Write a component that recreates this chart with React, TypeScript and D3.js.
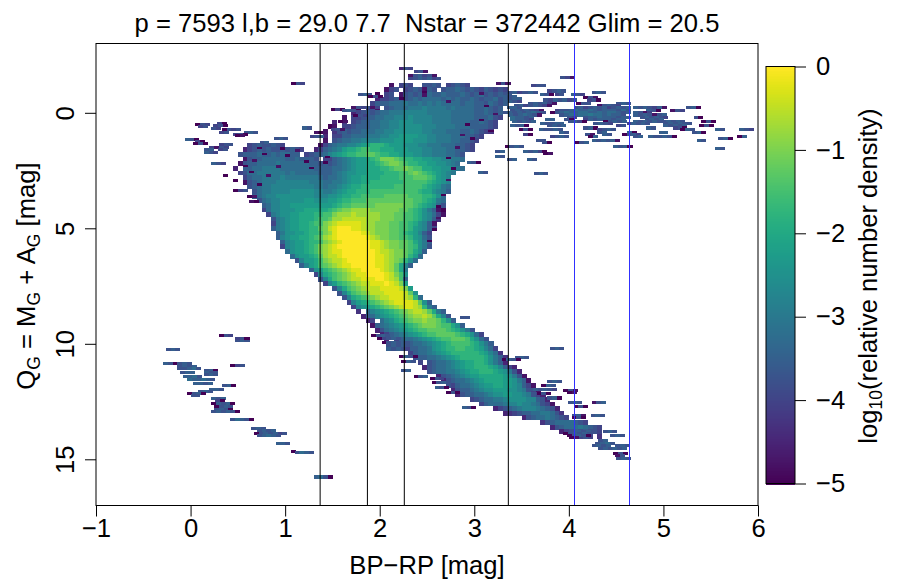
import React, { useRef, useEffect } from "react";
import * as d3 from "d3";

// cell levels: a = -5 ... u = 0 in log10 density, steps of 0.25; "." = empty bin
type Row = [number, number, string]; // Q, BP-RP of first bin, levels

const xTicks = [-1, 0, 1, 2, 3, 4, 5, 6];
const yTicks = [0, 5, 10, 15];
const barTicks = [0, -1, -2, -3, -4, -5];
const blackLines = [1.37, 1.87, 2.26, 3.36];
const blueLines = [4.05, 4.64];

const giantRows: Row[] = [
  [-1.2, 2.1, "b.efe..ffgf.efgfe."],
  [-1.0, 2.05, "bef.efgfbgf.fgghgfgfegfefe"],
  [-0.8, 1.95, "a.ef.bfgfgbhgghggghgfghfgfgfg"],
  [-0.6, 1.95, "ceefggfghghhhhghghgghgfgghfgg"],
  [-0.4, 1.9, "eggghhhihhihihihhhhghhggfhgfg"],
  [-0.2, 1.75, "a.efb.fghhhiiijiiiihihhhhgghgfg"],
  [0.0, 1.7, "cefgfghhiiijjjjjiiiiihhhhhgghgfg"],
  [0.2, 1.6, "b.eefgghhiijjjkjjjjiiiihhhhhggghfe"],
  [0.4, 1.5, "c.d.efgghhiijjkkkjjjjiiiihhhhgghgfe"],
  [0.6, 1.45, "ab.eefggghhiijjkkkkkjjjiiiihhhggggfe"],
  [0.8, 1.4, "b.dfgfgghhhiijjkkkkkkjjiiihhhgghgfed"],
  [1.0, 1.4, "c.eegghhhiiijjkkllllkkjjiiihhhggfe"],
  [1.2, 1.4, "b.fghhiijjjjkkkllllkkkjjiiihhggfe"],
  [1.4, 0.6, "efgffgfe.......beghiijjklmnnnmlllkkkjjiiihhhggfe"],
  [1.6, 0.55, "cefgfgffgfgfe..ceghijlmmnoonnmmmlllkkkjjiiihhggfe"],
  [1.8, 0.5, "fggghgghghhgg.efgghjklmnnoopponnmmlllkkjjiiihhgf"],
  [2.0, 0.55, "bfgghhhhhgghgggf.eeghijkllmnoqqqponnmmllkkjjiih"],
  [2.2, 0.45, ".bfgghhhhihhhhhhggfgfghijkllmmnopqqponnmmllkkjih"],
  [2.4, 0.45, "c.gghhiiiihhhhhhhggg" + "ghhijkllmmmnnoppqpoommllkkjih"],
  [2.6, 0.5, "efhhiiiiiihihhhhhg" + "gghijkkllmmmmnnnoopqponmlkji"],
  [2.8, 0.55, "eghhiiiijiiiiiiih" + "ghhijkllmmmmnnnnoooppponlkj"],
  [3.0, 0.55, "bfghiiijjjjjjjiii" + "hhiijkllmmnnnnnnnooooonmlkj"],
  [3.2, 0.6, "fghiijjjjjjjjjii" + "hiijklmmnnnnnnnoooooonmlkih"],
  [3.4, 0.6, ".fhiijjjjkkkkkjj" + "iijklmmnnnoooooooooonmmkjig"],
  [3.6, 0.65, "ghijjkkkkkkkkj" + "jjkklmmnnooooopppppooonnmkh"],
  [3.8, 0.7, "fhijjkkkkkllkk" + "kllmnnoooppppppppppoonmlih"],
  [4.0, 0.7, ".ghjjkkllllllll" + "lmnoopppppqqqqqqpponmlkhf"],
];

const turnoffRows: Row[] = [
  [4.2, 0.75, "ehjjkkkllmmmmm" + "nopqqrrrrqqqqqqpponmkigba"],
  [4.4, 0.8, "eijkkllmmmnnoo" + "qrrrsrrrrrqqqppoonmkjheb"],
  [4.6, 0.8, ".fijkllmmmnoop" + "rrsssssrrrqqqppoonmkjgd"],
  [4.8, 0.8, ".eijkllmmnooqr" + "stttttsrrqqqppoonmkjgb"],
  [5.0, 0.85, "gijkllmmnnpqs" + "tuuuttsrrqqqppoonlkjge"],
  [5.2, 0.85, ".gikkllmnnoqr" + "tuuuuutsrqqqpponmljge"],
  [5.4, 0.9, "gjkllmmnopr" + "stuuuuuutsrqqppoonlkhf"],
  [5.6, 0.9, ".gjkllmnnoqr" + "stuuuuuuttsrqqppomkig"],
  [5.8, 0.95, "ejkllmnoqr" + "stuuuuuuuttsrqqpponkif"],
  [6.0, 1.0, "hkllmnoqr" + "sttuuuuuuutssrqqpomkg"],
  [6.2, 1.05, "hkllmnpr" + "sstuuuuuuuttsrqqpnlh"],
  [6.4, 1.1, "fjllmoq" + "rsstuuuuuuttsrqpnkh"],
  [6.6, 1.15, "gjlmop" + "qrsttuuuuuttsrpmjg"],
  [6.8, 1.25, "gklno" + "pqrsttuuuutsrpmi"],
  [7.0, 1.3, "ejmno" + "pqrsttuuuutsqok"],
  [7.2, 1.35, "fjmo" + "pqrsstttuutsrog"],
  [7.4, 1.4, "ejlno" + "pqrsstttutsql"],
  [7.6, 1.5, "fjmo" + "pqrsssttttsql"],
  [7.8, 1.55, "fjmo" + "pqrsssttttspk"],
  [8.0, 1.6, "fjm" + "nopqrsstttsrnh"],
  [8.2, 1.65, "ejl" + "mnopqrsttttspkg"],
  [8.4, 1.7, "ej" + "klmnopqrsttsrnig"],
];

const lowerRows: Row[] = [
  [8.6, 1.75, "d.h" + "jklmnopqrssrpmig"],
  [8.8, 1.8, "cghj" + "klmnopqrrsrpmjf"],
  [9.0, 1.85, "ce.hj" + "kmnopqqrqqpnkg"],
  [9.2, 1.9, "bghi" + "jklmnopqqqpoomkg"],
  [9.4, 1.95, "cfhi" + "jklmnoopppponmkif"],
  [9.6, 2.0, "ceghi" + "jklmnoopppponmkhe"],
  [9.8, 2.05, "c.eghh" + "ijklmnoopppomkhf"],
  [10.0, 2.2, "efghhi" + "jklmnoooonmkig"],
  [10.2, 2.25, "fgghh" + "iklmnnoonnmljhe"],
  [10.4, 2.3, "eghh" + "ijklmnnnnnnmljhd"],
  [10.6, 2.35, "fgghh" + "ijklmnnnnnmkigd"],
  [10.8, 2.4, "e.fghh" + "ijklmmnnmkigc"],
  [11.0, 2.45, "cfghhi" + "jklmmnnnmljgec"],
  [11.2, 2.5, "fghhi" + "ijklmmnnnmlkifc"],
  [11.4, 2.6, "cfghi" + "jkllmmmmmlkifb"],
  [11.6, 2.65, "cfghhi" + "jklmmmmllkigb"],
  [11.8, 2.7, "feghhi" + "jkllmmllkjgeb"],
  [12.0, 2.75, "cfgghi" + "jkklllkkjifeb"],
  [12.2, 2.8, "cfgghhi" + "jkkllkkjifec"],
  [12.4, 2.95, "efghhii" + "jkkkkjjgfc"],
  [12.6, 3.05, "eghhhi" + "jjkjjihfeb"],
  [12.8, 3.2, "cefgh" + "ijjjihgfc"],
  [13.0, 3.3, "cdefggh" + "hiihfd"],
  [13.2, 3.5, "cfghhihgfe"],
  [13.4, 3.7, "dfghhhhgfe"],
  [13.6, 3.75, ".cfghhhihgfe"],
  [13.8, 3.9, "cefgfgffe"],
  [14.0, 4.0, "cdefe.d"],
];

const blueEdgeSpans: Row[] = [
  [-1.93, 2.2, "cfe"],
  [-1.78, 2.36, "efb"],
  [-1.64, 2.3, "bfgefb"],
  [-1.5, 2.3, "efgfgef"],
  [-1.28, 1.06, "afe"],
  [-0.78, 1.77, "fgf"],
  [-0.7, 1.88, "afa"],
  [-0.23, 1.7, "bfefbe"],
  [-0.16, 1.48, "aea"],
  [-0.1, 1.6, "fgf"],
  [0.13, 1.72, "afe"],
  [0.37, 1.56, "ab"],
  [0.52, 0.05, "afe"],
  [0.59, 0.08, "ef"],
  [0.45, 0.28, "ea"],
  [0.55, 0.24, "efa"],
  [0.66, 0.22, "fe"],
  [0.65, 1.18, "gf"],
  [0.73, 0.33, "afef"],
  [0.7, 1.48, "efb"],
  [0.83, 0.3, "ef"],
  [0.83, 0.56, "fgf"],
  [0.85, 1.3, "ba"],
  [0.92, 0.45, "efa"],
  [0.99, 0.47, "ab"],
  [1.0, 1.26, "efg"],
  [1.12, 0.88, "fgf"],
  [1.14, -0.06, "gfa"],
  [1.24, 0.05, "ea"],
  [1.28, 0.73, "fg"],
  [1.32, 0.03, "afa"],
  [1.35, 0.3, "eff"],
  [1.5, 0.2, "ebfe"],
  [1.6, 0.14, "fg.ef"],
  [1.7, 0.14, "gfe"],
  [2.2, 0.22, "gfe"],
  [2.72, 0.34, "a"],
  [2.93, 0.45, "a"],
  [3.35, 0.45, "aef"],
  [3.6, 0.6, "ab"],
  [3.85, 0.62, "ba"],
];

const giantTailSpans: Row[] = [
  [-1.28, 3.23, "bfb"],
  [-1.2, 3.6, "eff"],
  [-1.52, 3.91, "feb"],
  [-0.88, 3.35, "fgefg"],
  [-0.88, 3.52, "fgf"],
  [-0.8, 3.69, "gfa"],
  [-0.72, 3.3, "gfg"],
  [-0.95, 3.77, "efgf"],
  [-0.78, 3.85, "ef"],
  [-0.78, 4.02, "gfe"],
  [-0.88, 4.24, "fgf"],
  [-0.67, 4.15, "afb"],
  [-0.62, 3.35, "fgg"],
  [-0.56, 3.73, "fegfgef"],
  [-0.56, 4.19, "efa"],
  [-0.5, 3.3, "ggfe"],
  [-0.42, 3.57, "fgfgeb"],
  [-0.42, 4.08, "aff"],
  [-0.42, 4.5, "fgf"],
  [-0.32, 3.42, "fgefgfeb"],
  [-0.32, 4.3, "bfgfe"],
  [-0.23, 4.05, "fgefgfgefgfg"],
  [-0.23, 3.35, "ggf"],
  [-0.23, 4.68, "gfgfegb"],
  [-0.23, 5.24, "fga"],
  [-0.11, 3.38, "fgfgfeb"],
  [-0.11, 3.85, "effghgghgfgggfhf"],
  [-0.11, 4.82, "gfa"],
  [-0.11, 5.07, "bfe"],
  [0.0, 3.3, "fgfgfghgf"],
  [0.0, 3.8, "afghgghhgghghhgfg"],
  [0.0, 4.68, "gfbe"],
  [0.09, 3.36, "gfghgfb"],
  [0.09, 3.9, "fghghhihhghggf"],
  [0.09, 4.68, "gfgfbfg"],
  [0.19, 3.38, "hggfg"],
  [0.19, 3.98, "fe"],
  [0.19, 4.15, "fgghgggfgg"],
  [0.19, 4.75, "fgfgfe"],
  [0.19, 5.32, "fa"],
  [0.27, 3.38, "hggfe"],
  [0.27, 3.75, "gg"],
  [0.27, 3.95, "fa"],
  [0.27, 4.15, "egfgggfgg"],
  [0.27, 4.8, "fgfg"],
  [0.39, 3.4, "gfgfg"],
  [0.39, 3.99, "fgea"],
  [0.39, 4.36, "afgfg"],
  [0.39, 4.68, "gfgfgffgfgf"],
  [0.39, 5.4, "afa"],
  [0.47, 3.7, "gffgg"],
  [0.47, 4.26, "fgfe"],
  [0.47, 4.61, "egfgf"],
  [0.47, 5.0, "fgfgff"],
  [0.56, 3.38, "gfga"],
  [0.56, 3.77, "fgfg"],
  [0.56, 4.5, "ef"],
  [0.56, 5.0, "gfgfg"],
  [0.56, 5.38, "afa"],
  [0.65, 4.15, "fga"],
  [0.65, 4.82, "gf"],
  [0.65, 5.1, "efa"],
  [0.73, 3.47, "afa"],
  [0.73, 3.68, "gffgf"],
  [0.73, 4.3, "efgf"],
  [0.73, 5.18, "agf"],
  [0.73, 5.55, "gf"],
  [0.73, 5.8, "gfe"],
  [0.83, 3.9, "gf"],
  [0.83, 4.3, "fg"],
  [0.83, 4.62, "ga"],
  [0.83, 4.95, "gg"],
  [0.83, 5.3, "fga"],
  [0.92, 3.52, "ea"],
  [0.92, 4.17, "fb"],
  [0.92, 4.35, "gf"],
  [0.92, 4.56, "afge"],
  [1.03, 3.8, "efgf"],
  [1.03, 4.2, "ag"],
  [1.03, 4.68, "fg"],
  [1.03, 4.84, "gffgfa"],
  [1.03, 5.78, "ag"],
  [1.12, 5.58, "fga"],
  [1.19, 3.65, "ff"],
  [1.19, 4.24, "gfgfgb"],
  [1.19, 5.35, "gf"],
  [1.29, 3.72, "fa"],
  [1.29, 4.06, "afg"],
  [1.45, 3.32, "afgf"],
  [1.45, 4.47, "gfga"],
  [1.55, 5.55, "gf"],
  [1.67, 3.52, "gfgea"],
  [1.67, 3.22, "fg"],
  [1.75, 3.73, "ab"],
  [1.88, 3.22, "gf"],
  [2.03, 3.35, "fg"],
  [2.03, 3.56, "gf"],
  [2.14, 2.92, "gfa"],
  [2.57, 3.04, "gf"],
  [2.63, 3.63, "fgf"],
];

const whiteDwarfSpans: Row[] = [
  [8.85, 2.85, "ff"],
  [9.64, 0.3, "afe"],
  [9.86, 0.47, "fgf"],
  [9.78, 0.47, "efa"],
  [10.24, -0.26, "fgf"],
  [10.86, -0.29, "gfa"],
  [10.83, -0.14, "fgf"],
  [10.93, 0.42, "aef"],
  [10.96, -0.14, "fgfg"],
  [11.08, -0.14, "ffghf"],
  [11.15, 0.14, "fga"],
  [11.22, -0.11, "fgg"],
  [11.25, 0.14, "gff"],
  [11.32, 0.14, "fgf"],
  [11.39, -0.08, "gghf"],
  [11.54, -0.04, "hgghgf"],
  [11.72, 0.03, "ggfg"],
  [11.81, 0.33, "fga"],
  [11.97, 0.2, "ggf"],
  [12.05, 0.08, "fgf"],
  [12.15, -0.04, "afga"],
  [12.23, 0.0, "ff"],
  [12.37, 0.22, "gfg"],
  [12.47, 0.26, "ea"],
  [12.59, 0.22, "agfga"],
  [12.7, 0.25, "afgf"],
  [12.82, 0.25, "fgfa"],
  [12.92, 0.22, "fgfgfa"],
  [13.26, 0.42, "fhgfa"],
  [13.66, 0.64, "fgf"],
  [13.74, 0.7, "fgfg"],
  [13.88, 0.67, "afgfgef"],
  [13.98, 0.7, "fghgf"],
  [14.31, 0.9, "ggf"],
  [14.64, 1.06, "a"],
  [14.7, 1.1, "fhgf"],
  [15.76, 1.3, "ghfa"],
];

const lowerEdgeSpans: Row[] = [
  [9.64, 1.91, "afgf"],
  [9.78, 1.97, "aefgf"],
  [9.93, 2.02, "afgfgf"],
  [10.07, 2.07, "fgfgf"],
  [10.22, 2.07, "gfgfe"],
  [10.55, 2.2, "agfa"],
  [10.6, 3.43, "fgf"],
  [10.67, 3.29, "agfa"],
  [10.76, 2.23, "agf"],
  [11.15, 2.23, "fg"],
  [11.39, 2.36, "afg"],
  [11.5, 2.53, "afe"],
  [11.68, 2.55, "afg"],
  [11.87, 2.58, "gfa"],
  [12.11, 2.7, "afa"],
  [10.21, 3.8, "fgf"],
  [11.62, 3.77, "fgf"],
  [11.79, 3.71, "agf"],
  [11.97, 3.57, "fgfgfe"],
  [12.14, 3.66, "afa"],
  [12.02, 3.94, "afb"],
  [12.11, 3.98, "ab"],
  [12.34, 3.77, "fga"],
  [12.54, 3.99, "fgf"],
  [12.54, 4.24, "bfg"],
  [12.7, 4.05, "afa"],
  [12.76, 2.87, "gfa"],
  [13.09, 4.03, "fgb.fgf"],
  [13.2, 4.03, "afa"],
  [13.81, 4.36, "fgf"],
  [13.95, 4.44, "fgf"],
  [13.78, 4.08, "gfg"],
  [13.88, 3.94, "afgfgf"],
  [13.98, 3.98, "afgfa"],
  [14.06, 4.0, "ab"],
  [14.18, 4.31, "fg"],
  [14.29, 4.28, "fghf"],
  [14.38, 4.24, "fgfg.fgf"],
  [14.51, 4.31, "fgfgfg"],
  [14.74, 4.47, "afa"],
  [14.84, 4.49, "bf"],
  [14.96, 4.5, "fgf"],
];

// dark single bins scattered over the noisy parts of the giant branch
const darkSpecks: Row[] = [
  [-0.9, 2.45, "a"], [-0.85, 3.05, "b"], [-0.62, 2.2, "a"], [-0.5, 2.7, "b"],
  [-0.3, 3.1, "a"], [0.05, 3.2, "b"], [0.3, 3.05, "a"], [0.5, 2.9, "a"],
  [0.78, 3.15, "a"], [0.95, 2.85, "b"], [1.1, 2.95, "a"], [1.52, 0.7, "a"],
  [1.55, 0.95, "a"], [1.62, 1.1, "b"], [1.78, 0.75, "a"], [1.85, 1.0, "a"],
  [1.9, 1.42, "a"], [2.05, 0.65, "b"], [2.1, 1.2, "a"], [2.15, 1.4, "a"],
  [2.3, 0.55, "a"], [2.32, 0.9, "b"], [2.38, 1.25, "a"], [2.55, 0.62, "a"],
  [2.7, 0.8, "b"], [3.1, 0.7, "a"], [1.5, 2.8, "b"], [1.95, 2.7, "a"],
  [2.4, 2.75, "a"], [2.9, 2.7, "b"], [3.55, 2.65, "a"], [4.05, 2.6, "a"],
  [4.55, 2.6, "b"], [5.05, 2.55, "a"], [5.55, 2.5, "a"],
];

const denseRows = [...giantRows, ...turnoffRows, ...lowerRows];
const sparseSpans = [...blueEdgeSpans, ...giantTailSpans, ...whiteDwarfSpans, ...lowerEdgeSpans];

const width = 908;
const height = 583;
const font = "'Liberation Sans', Arial, sans-serif";
const binWidth = 0.05;
const fontSize = 25.6;
const subSize = 17.5;

const levelValue = (ch: string) => (ch.charCodeAt(0) - 97) * 0.25 - 5;

const App = () => {
  const svgRef = useRef<SVGSVGElement>(null);

  useEffect(() => {
    const svg = d3.select(svgRef.current);
    svg.selectAll("*").remove();

    const xScale = d3.scaleLinear().domain([-1, 6]).range([96, 758]);
    const yScale = d3.scaleLinear().domain([-3, 17]).range([43.5, 505.5]);
    const barScale = d3.scaleLinear().domain([-5, 0]).range([483.5, 66.5]);
    const color = d3.scaleSequential(d3.interpolateViridis).domain([-5, 0]);
    const minus = (v: number) => String(v).replace("-", "\u2212");

    const drawRows = (rows: Row[], rowHeight: number) => {
      const g = svg.append("g").attr("shape-rendering", "crispEdges");
      rows.forEach(([q, start, cells]) => {
        cells.split("").forEach((ch, i) => {
          if (ch === ".") return;
          const bp = start + i * binWidth;
          g.append("rect")
            .attr("x", xScale(bp))
            .attr("y", yScale(q - rowHeight / 2))
            .attr("width", xScale(bp + binWidth) - xScale(bp) + 0.3)
            .attr("height", yScale(q + rowHeight / 2) - yScale(q - rowHeight / 2) + 0.3)
            .attr("fill", color(levelValue(ch)));
        });
      });
    };

    drawRows(denseRows, 0.2);
    drawRows(sparseSpans, 0.12);
    drawRows(darkSpecks, 0.1);

    blackLines.forEach((v) => {
      svg.append("line")
        .attr("x1", xScale(v)).attr("x2", xScale(v))
        .attr("y1", 43.5).attr("y2", 505.5)
        .attr("stroke", "#000").attr("stroke-width", 1);
    });
    blueLines.forEach((v) => {
      svg.append("line")
        .attr("x1", Math.round(xScale(v)) + 0.5).attr("x2", Math.round(xScale(v)) + 0.5)
        .attr("y1", 43.5).attr("y2", 505.5)
        .attr("stroke", "#3030ff").attr("stroke-width", 1);
    });

    svg.append("rect")
      .attr("x", 96).attr("y", 43.5).attr("width", 662).attr("height", 462)
      .attr("fill", "none").attr("stroke", "#000").attr("stroke-width", 1);

    const xAxis = svg.append("g")
      .attr("transform", "translate(0,505.5)")
      .call(d3.axisBottom(xScale).tickValues(xTicks).tickFormat((d) => minus(+d)).tickSize(11).tickPadding(2));
    const yAxis = svg.append("g")
      .attr("transform", "translate(96,0)")
      .call(d3.axisLeft(yScale).tickValues(yTicks).tickSize(11));
    [xAxis, yAxis].forEach((a) => {
      a.select(".domain").remove();
      a.selectAll("text").attr("font-family", font).attr("font-size", fontSize).attr("fill", "#000");
    });
    yAxis.selectAll("text")
      .attr("x", 0).attr("y", 0).attr("dy", 0)
      .attr("text-anchor", "middle")
      .attr("transform", "translate(-22,0) rotate(-90)");

    // colour bar
    const barG = svg.append("g").attr("shape-rendering", "crispEdges");
    d3.range(483, 66, -1).forEach((py) => {
      barG.append("rect")
        .attr("x", 766).attr("y", py).attr("width", 29).attr("height", 1.5)
        .attr("fill", color(barScale.invert(py + 0.5)));
    });
    svg.append("rect")
      .attr("x", 766).attr("y", 66.5).attr("width", 29).attr("height", 417)
      .attr("fill", "none").attr("stroke", "#000").attr("stroke-width", 1);
    const barAxis = svg.append("g")
      .attr("transform", "translate(795,0)")
      .call(d3.axisRight(barScale).tickValues(barTicks).tickFormat((d) => minus(+d)).tickSize(11).tickPadding(10));
    barAxis.select(".domain").remove();
    barAxis.selectAll("text").attr("font-family", font).attr("font-size", fontSize).attr("fill", "#000");

    const label = (x: number, y: number, rotate: number) =>
      svg.append("text")
        .attr("transform", `translate(${x},${y}) rotate(${rotate})`)
        .attr("text-anchor", "middle")
        .attr("font-family", font)
        .attr("font-size", fontSize)
        .attr("fill", "#000")
        .style("white-space", "pre");

    label(427, 32, 0).text("p = 7593 l,b = 29.0 7.7  Nstar = 372442 Glim = 20.5");
    label(427, 574, 0).text("BP\u2212RP [mag]");

    const yTitle = label(35, 276, -90);
    const yParts: [string, number][] = [
      ["Q", 0], ["G", 5], [" = M", -5], ["G", 5], [" + A", -5], ["G", 5], [" [mag]", -5],
    ];
    yParts.forEach(([s, dy]) => {
      yTitle.append("tspan")
        .attr("font-size", dy > 0 ? subSize : fontSize)
        .attr("dy", dy)
        .text(s);
    });

    const barTitle = label(877, 276, -90);
    barTitle.append("tspan").text("log");
    barTitle.append("tspan").attr("font-size", subSize).attr("dy", 5).text("10");
    barTitle.append("tspan").attr("dy", -5).text("(relative number density)");
  }, []);

  return (
    <svg
      ref={svgRef}
      width={width}
      height={height}
      style={{ position: "absolute", left: 0, top: 0, background: "#fff" }}
    />
  );
};

export default App;
